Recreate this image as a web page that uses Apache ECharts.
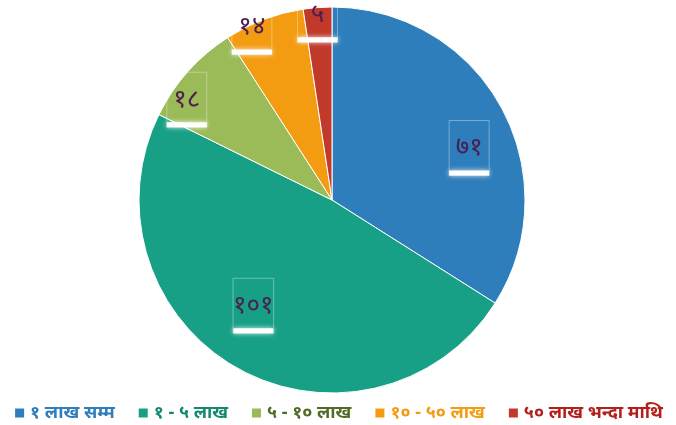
<!DOCTYPE html>
<html>
<head>
<meta charset="utf-8">
<script src="https://cdn.jsdelivr.net/npm/echarts@6/dist/echarts.min.js"></script>
<style>
	html, body { margin: 0; padding: 0; background: #fff; }
	#main { width: 676px; height: 425px; }
</style>
</head>
<body>
<div id="main"></div>
<script>
var categories = ['१ लाख सम्म', '१ - ५ लाख', '५ - १० लाख', '१० - ५० लाख', '५० लाख भन्दा माथि'];
var values = [71, 101, 18, 14, 5];
var sliceColors = ['#2e7ebb', '#17a085', '#9bbb59', '#f39c12', '#c0392b'];
var legendColors = ['#2e7ebb', '#138a70', '#4f6b25', '#f39c12', '#b3201c'];
// nudges for the value boxes, so they sit like the original
var labelOffsets = [[50, -4], [-30, 19], [-71, -34], [-45, -80], [-7, -86]];

function toDevanagari(n) {
	var digits = '०१२३४५६७८९';
	return String(n).replace(/[0-9]/g, function(d) { return digits[+d]; });
}

let mychart = echarts.init(document.getElementById('main'));

var pieData = [];
for (var i = 0; i < values.length; i++) {
	pieData.push({
		name: categories[i],
		value: values[i],
		itemStyle: { color: sliceColors[i] },
		label: { offset: labelOffsets[i] }
	});
}

var legendData = [];
for (var j = 0; j < categories.length; j++) {
	legendData.push({ name: categories[j], textStyle: { color: legendColors[j] } });
}

let option = {
	animation: false,
	legend: {
		bottom: -2,
		left: 'center',
		icon: 'rect',
		itemWidth: 11,
		itemHeight: 11,
		itemGap: 22,
		data: legendData,
		textStyle: {
			fontSize: 18,
			fontWeight: 'bold',
			fontFamily: 'Noto Sans, sans-serif'
		}
	},
	series: [{
		type: 'pie',
		center: [332, 200],
		radius: 193,
		startAngle: 90,
		clockwise: true,
		itemStyle: {
			borderColor: '#fff',
			borderWidth: 1
		},
		label: {
			show: true,
			position: 'inside',
			formatter: function(p) {
				return '{t|' + toDevanagari(p.value) + '}\n{u|}';
			},
			borderColor: 'rgba(255,255,255,0.35)',
			borderWidth: 1,
			padding: [14, 0, 0, 0],
			rich: {
				t: {
					fontSize: 26,
					color: '#4b1f4f',
					fontFamily: 'Noto Sans, sans-serif',
					padding: [0, 0, 10, 0]
				},
				u: {
					width: 40,
					height: 5,
					backgroundColor: '#ffffff',
					shadowBlur: 5,
					shadowColor: 'rgba(255,255,255,0.9)'
				}
			}
		},
		labelLine: { show: false },
		emphasis: { disabled: true },
		data: pieData
	}]
};

mychart.setOption(option);
</script>
</body>
</html>
